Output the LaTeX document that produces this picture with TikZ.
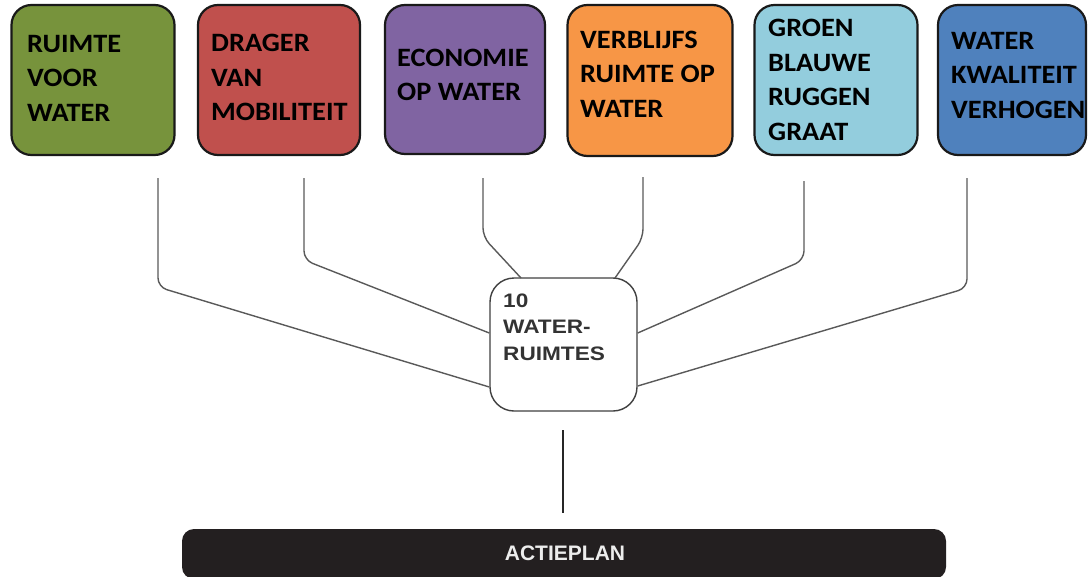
\documentclass[tikz,border=0pt]{standalone}
\usepackage{fontspec}
\setmainfont{Carlito}
\newfontfamily\calb[FakeStretch=1.07]{Carlito}
\newfontfamily\arialb[FakeStretch=1.16]{Liberation Sans}
\newfontfamily\arialplain{Liberation Sans}
\begin{document}
\begin{tikzpicture}[x=1pt,y=-1pt,
  topbox/.style={draw=black!90, line width=2.2pt, rounded corners=20pt, inner sep=0pt},
  boxtext/.style={anchor=west, align=left, inner sep=0pt, font=\calb\fontsize{26.5}{34.5}\selectfont\bfseries, text=black},
  conn/.style={draw=black!65, line width=1.4pt, rounded corners=9pt},
]
\useasboundingbox (0,0) rectangle (1090,576);
\definecolor{cgreen}{HTML}{77933C}
\definecolor{cred}{HTML}{C0504D}
\definecolor{cpurple}{HTML}{8064A2}
\definecolor{corange}{HTML}{F79646}
\definecolor{clblue}{HTML}{93CDDD}
\definecolor{cblue}{HTML}{4F81BD}
\definecolor{cbar}{HTML}{231F20}

% top boxes
\node[topbox, fill=cgreen,  minimum width=163pt, minimum height=150pt] (b1) at (93,80) {};
\node[topbox, fill=cred,    minimum width=162pt, minimum height=150pt] (b2) at (279,80) {};
\node[topbox, fill=cpurple, minimum width=160pt, minimum height=149pt] (b3) at (465,79.5) {};
\node[topbox, fill=corange, minimum width=165pt, minimum height=151pt] (b4) at (650,80.5) {};
\node[topbox, fill=clblue,  minimum width=163pt, minimum height=150pt] (b5) at (836,80) {};
\node[topbox, fill=cblue,   minimum width=148pt, minimum height=150pt] (b6) at (1012,80) {};

\node[boxtext] (t1) at (27,78) {RUIMTE\\VOOR\\WATER};
\node[boxtext] (t2) at (211,77.5) {DRAGER\\VAN\\MOBILITEIT};
\node[boxtext] (t3) at (397,75) {ECONOMIE\\OP WATER};
\node[boxtext] (t4) at (580,74) {VERBLIJFS\\RUIMTE OP\\WATER};
\node[boxtext] (t5) at (768,80) {GROEN\\BLAUWE\\RUGGEN\\GRAAT};
\node[boxtext] (t6) at (951,75) {WATER\\KWALITEIT\\VERHOGEN};

% central box
\node[draw=black!75, line width=1.4pt, rounded corners=24pt, fill=white,
      minimum width=147pt, minimum height=133pt, inner sep=0pt] (c) at (563.5,344.5) {};
\node[anchor=west, align=left, inner sep=0pt, text=black!80,
      font=\arialb\fontsize{19.5}{26.5}\selectfont\bfseries] (ct) at (503,327) {10\\WATER-\\RUIMTES};

% connectors
\coordinate (s1) at (158,178);
\coordinate (s2) at (304,178);
\coordinate (s3) at (483,178);
\coordinate (s4) at (643,177);
\coordinate (s5) at (804,181);
\coordinate (s6) at (967,178);

\draw[conn] (s1) -- (158,287) -- (c.west |- 0,387);
\draw[conn] (s2) -- (304,260) -- (c.west |- 0,333);
\draw[conn] (s3) -- (483,237) -- (521,278);
\draw[conn] (s4) -- (643,238) -- (615,278);
\draw[conn] (s5) -- (804,260) -- (c.east |- 0,333);
\draw[conn] (s6) -- (967,288) -- (c.east |- 0,386);

% bottom bar
\node[fill=cbar, rounded corners=12pt, minimum width=764pt, minimum height=50pt, inner sep=0pt] (bar) at (564,554) {};
\node[text=white!93!black, inner sep=0pt, font=\arialplain\fontsize{21}{21}\selectfont\bfseries] (bt) at (565,553.5) {ACTIEPLAN};
\coordinate (v) at (563,430);
\draw[draw=black!85, line width=1.3pt] (v) -- (563,513);
\end{tikzpicture}
\end{document}
